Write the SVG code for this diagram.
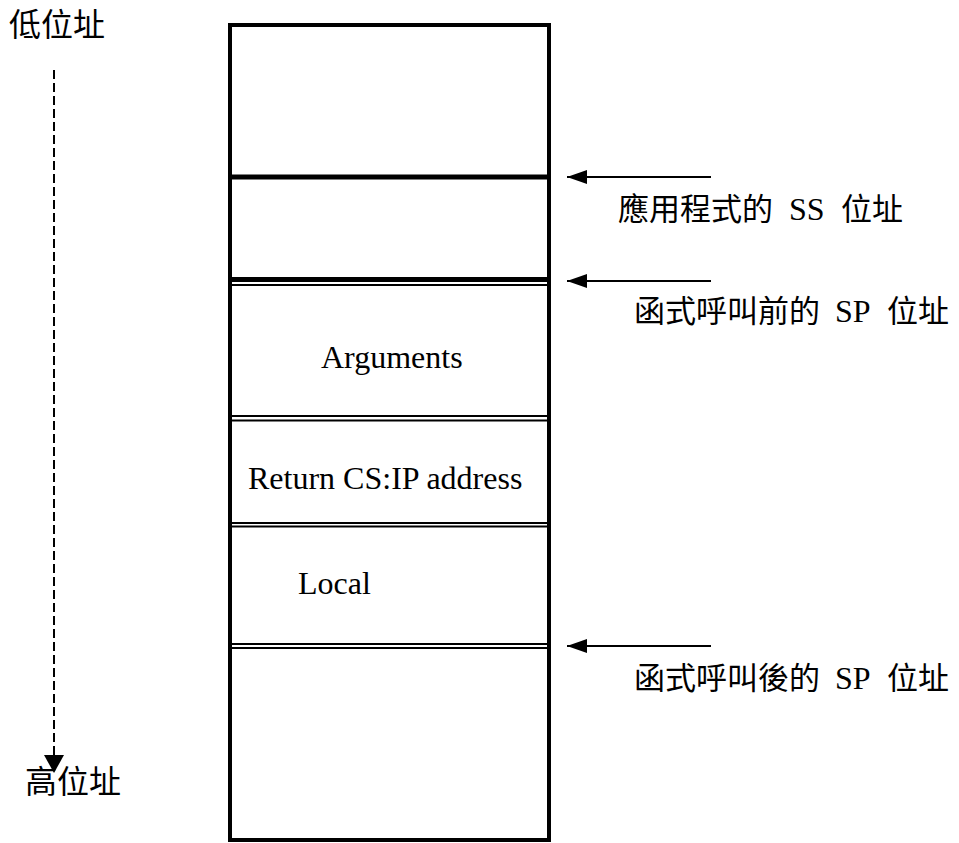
<svg xmlns="http://www.w3.org/2000/svg" width="959" height="843" viewBox="0 0 959 843">
<style>
.cjk{font-family:"Noto Sans CJK TC","Noto Sans CJK SC",sans-serif;font-size:31px;fill:#000}
.lat{font-family:"Liberation Serif",serif;font-size:32px;fill:#000}
.box{fill:#fff;stroke:#000;stroke-width:4}
.thick{stroke:#000;stroke-width:5}
.thin{stroke:#000;stroke-width:2}
.ptr{stroke:#000;stroke-width:2;fill:none}
</style>
<defs>
<marker id="ah" markerUnits="userSpaceOnUse" markerWidth="22" markerHeight="16" refX="20" refY="7" orient="auto-start-reverse">
<path d="M0,0 L20,7 L0,14 Z" fill="#000"/>
</marker>
</defs>
<rect width="959" height="843" fill="#fff"/>

<g id="stack">
<rect class="box" x="230" y="25" width="319" height="815"/>
</g>
<g id="cell-top"/>
<g id="cell-ss">
<line class="thick" x1="232" y1="177" x2="547" y2="177"/>
</g>
<g id="cell-sp-before">
<line class="thick" x1="232" y1="279.5" x2="547" y2="279.5"/>
<line class="thin" x1="232" y1="285" x2="547" y2="285"/>
</g>
<g id="cell-arguments">
<line class="thin" x1="232" y1="416" x2="547" y2="416"/>
<line class="thin" x1="232" y1="420.5" x2="547" y2="420.5"/>
<text class="lat" x="321" y="368">Arguments</text>
</g>
<g id="cell-return">
<line class="thin" x1="232" y1="523" x2="547" y2="523"/>
<line class="thin" x1="232" y1="526.5" x2="547" y2="526.5"/>
<text class="lat" x="248" y="489">Return CS:IP address</text>
</g>
<g id="cell-local">
<line class="thin" x1="232" y1="644" x2="547" y2="644"/>
<line class="thin" x1="232" y1="648" x2="547" y2="648"/>
<text class="lat" x="298" y="594">Local</text>
</g>

<g id="label-low">
<text class="cjk" x="9" y="36" style="font-size:32px">低位址</text>
</g>
<g id="label-high">
<text class="cjk" x="25" y="793" style="font-size:32px">高位址</text>
</g>
<g id="label-ss">
<text y="220"><tspan class="cjk" x="618">應用程式的</tspan> <tspan class="lat" x="789">SS</tspan> <tspan class="cjk" x="841">位址</tspan></text>
</g>
<g id="label-sp-before">
<text y="322"><tspan class="cjk" x="634">函式呼叫前的</tspan> <tspan class="lat" x="835">SP</tspan> <tspan class="cjk" x="887">位址</tspan></text>
</g>
<g id="label-sp-after">
<text y="689"><tspan class="cjk" x="634">函式呼叫後的</tspan> <tspan class="lat" x="835">SP</tspan> <tspan class="cjk" x="887">位址</tspan></text>
</g>

<g id="connectors">
<line class="ptr" x1="711" y1="177" x2="567" y2="177" marker-end="url(#ah)"/>
<line class="ptr" x1="711" y1="281" x2="567" y2="281" marker-end="url(#ah)"/>
<line class="ptr" x1="711" y1="646" x2="567" y2="646" marker-end="url(#ah)"/>
<line x1="54" y1="70" x2="54" y2="757" stroke="#000" stroke-width="2" stroke-dasharray="9,4"/>
<polygon points="44,755 64,755 54,773" fill="#000"/>
</g>
</svg>
